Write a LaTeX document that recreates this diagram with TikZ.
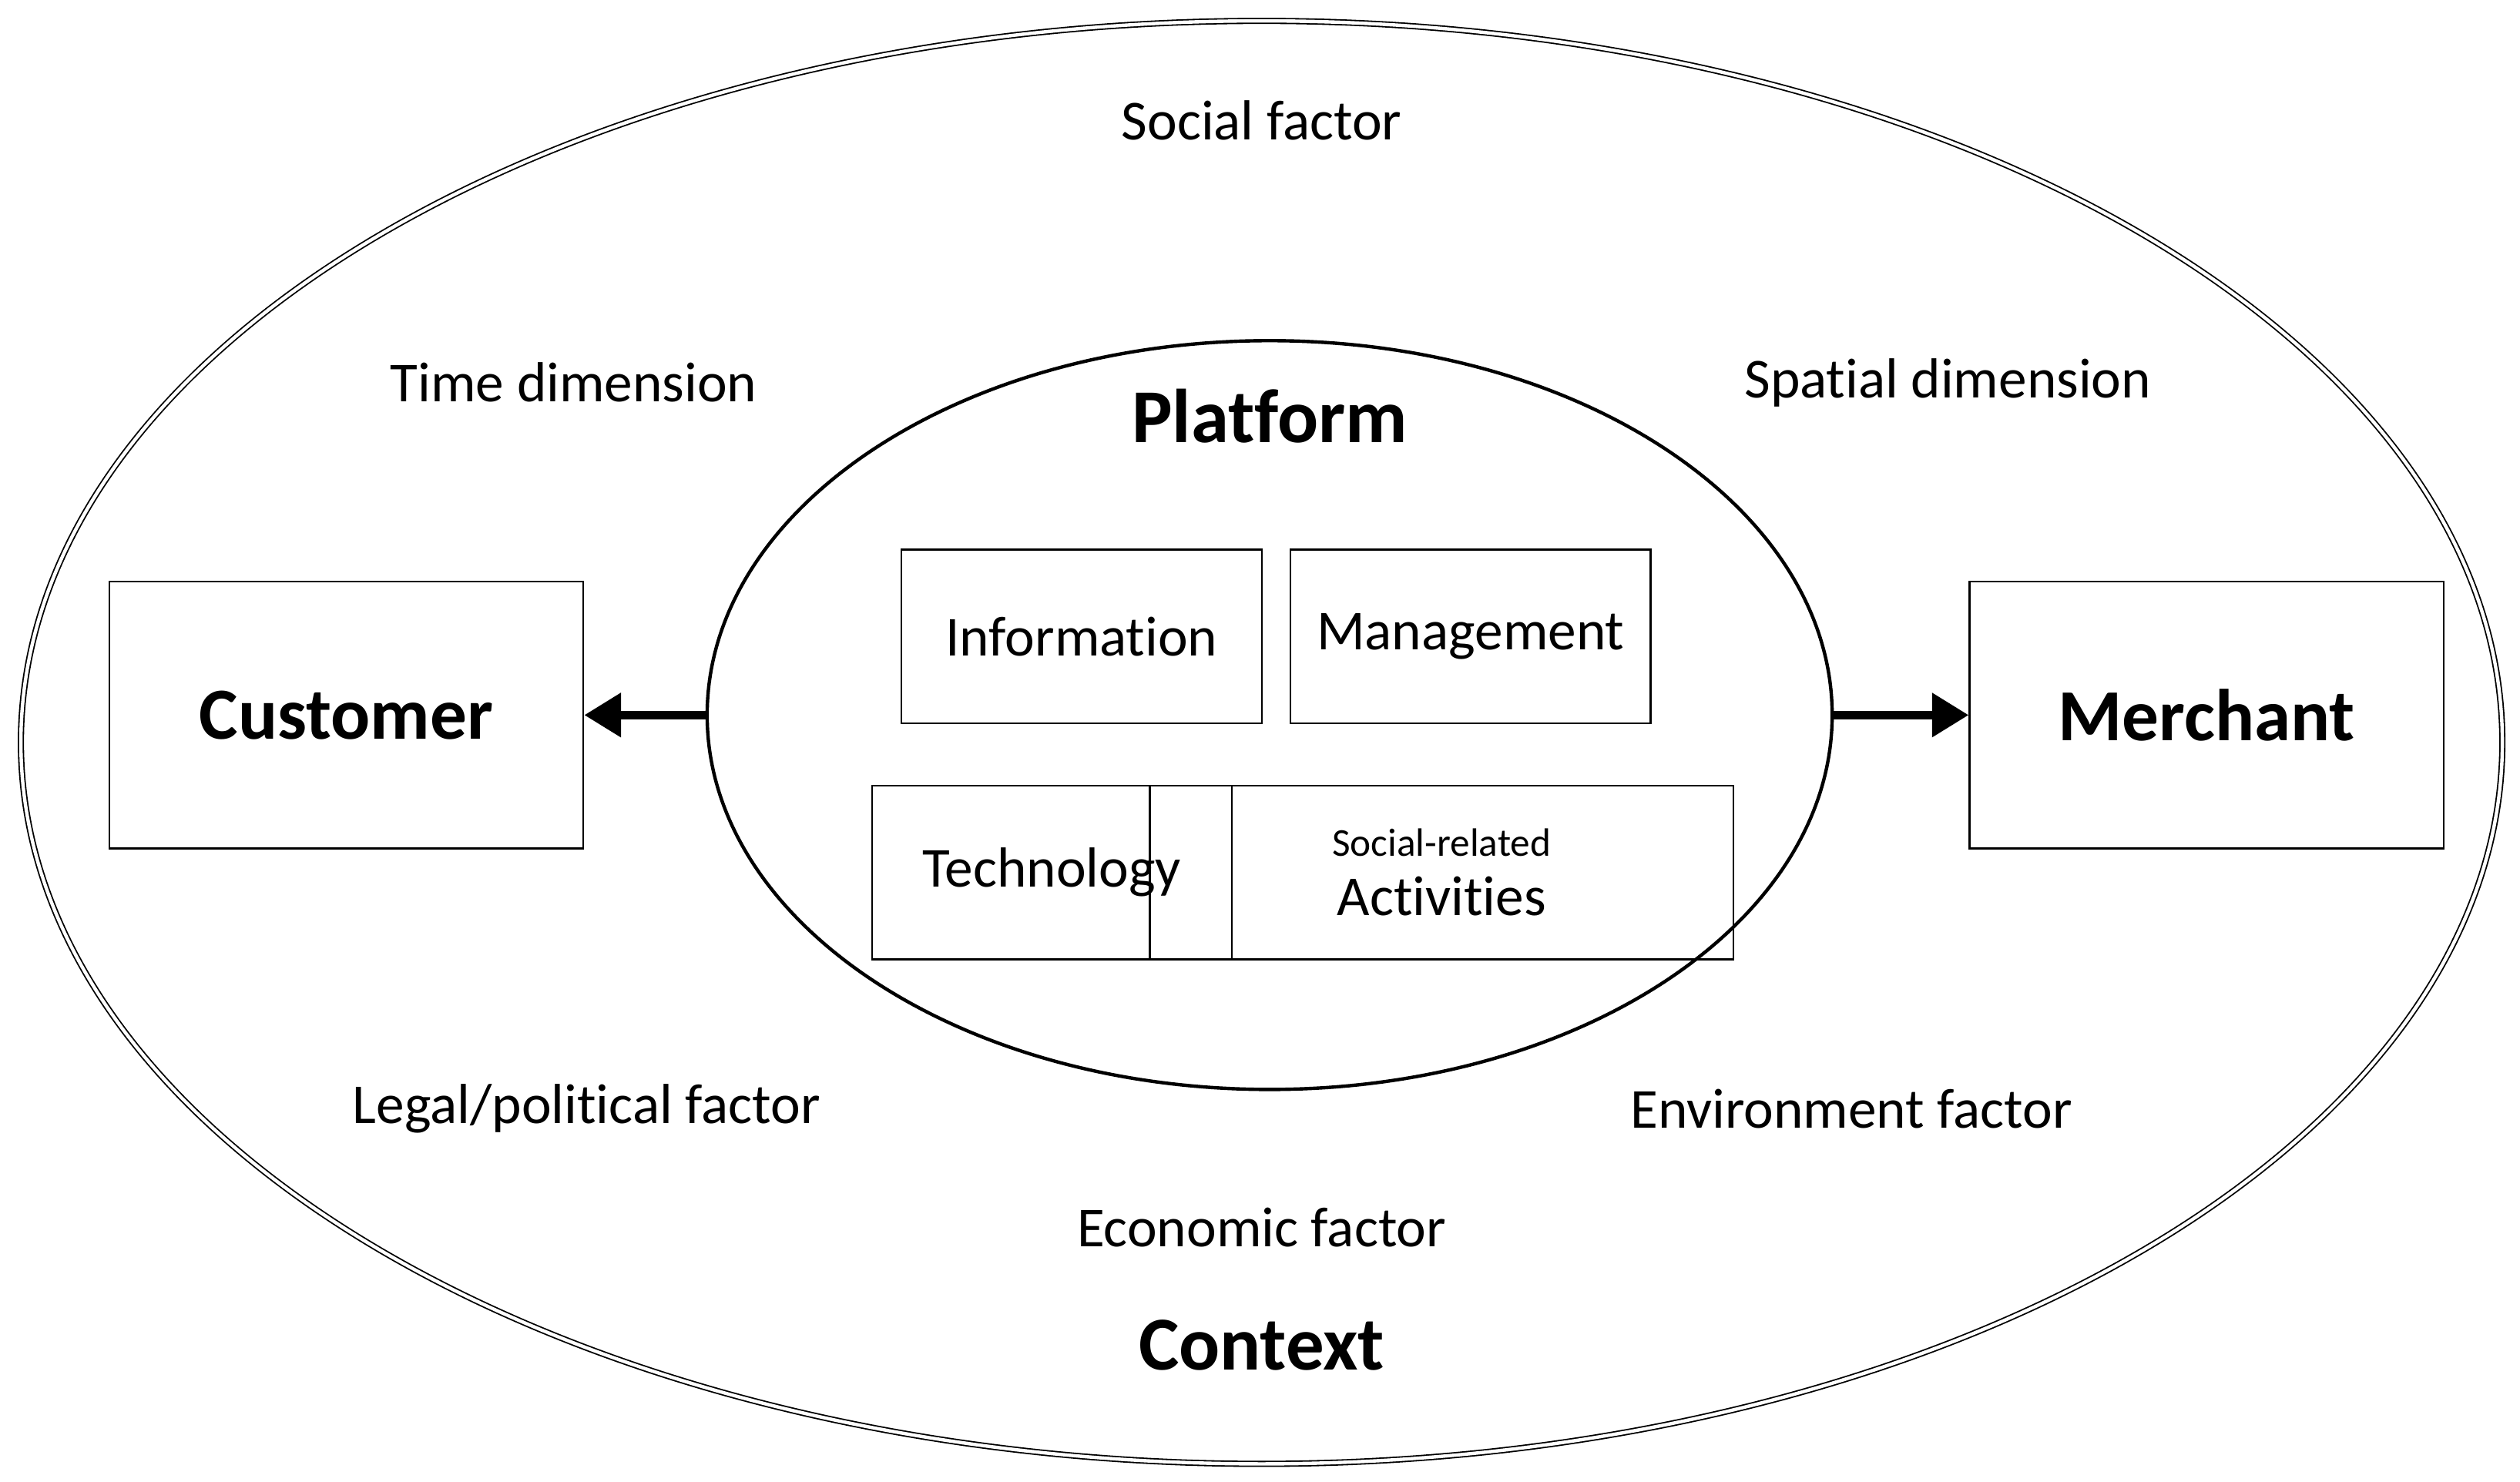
\documentclass[tikz,border=0pt]{standalone}
\usepackage{fontspec}
\setmainfont[Ligatures={NoCommon}]{Carlito}
\usetikzlibrary{arrows.meta}
\begin{document}
\begin{tikzpicture}[x=0.02cm,y=-0.02cm,
  lab/.style={font=\fontsize{20}{23}\selectfont},
  bigbox/.style={draw,line width=0.6pt,minimum width=295*0.02cm,minimum height=166*0.02cm,font=\bfseries\fontsize{26}{30}\selectfont},
  smallbox/.style={draw,line width=0.6pt,minimum width=224*0.02cm,minimum height=108*0.02cm,font=\fontsize{20}{23}\selectfont,align=center},
  arr/.style={line width=3pt,-{Triangle[length=13pt,width=15pt]}}]
\useasboundingbox (0,0) rectangle (1568,922);
\draw[line width=0.5pt,double,double distance=1.2pt] (785,462) ellipse [x radius=772, y radius=449];
\draw[line width=1.2pt] (790,445) ellipse [x radius=350, y radius=233];
\node[lab] (social) at (785,75) {Social factor};
\node[lab] (time) at (357,238) {Time dimension};
\node[lab] (spatial) at (1212,238) {Spatial dimension};
\node[lab] (legal) at (365,690) {Legal/political factor};
\node[lab] (env) at (1152,690) {Environment factor};
\node[lab] (econ) at (785,764) {Economic factor};
\node[font=\bfseries\fontsize{27}{30}\selectfont] (context) at (785,837) {Context};
\node[font=\bfseries\fontsize{27}{30}\selectfont] (platform) at (790,259) {Platform};
\node[bigbox] (cust) at (215.5,445) {Customer};
\node[bigbox] (merch) at (1373,445) {Merchant};
\node[smallbox] (info) at (673,396) {Information};
\node[smallbox] (mgmt) at (915,396) {Management\vphantom{I}};
\node[smallbox] (tech) at (654.5,543) {Technology\vphantom{I}};
\node[smallbox] (soc) at (897,543) {\raisebox{5pt}{\parbox{200pt}{\centering{\fontsize{14}{16}\selectfont Social-related}\\[-2pt]Activities}}};
\coordinate (pl) at (441,445);
\coordinate (pr) at (1139,445);
\draw[arr] (pl) -- (cust.east);
\draw[arr] (pr) -- (merch.west);
\end{tikzpicture}
\end{document}
